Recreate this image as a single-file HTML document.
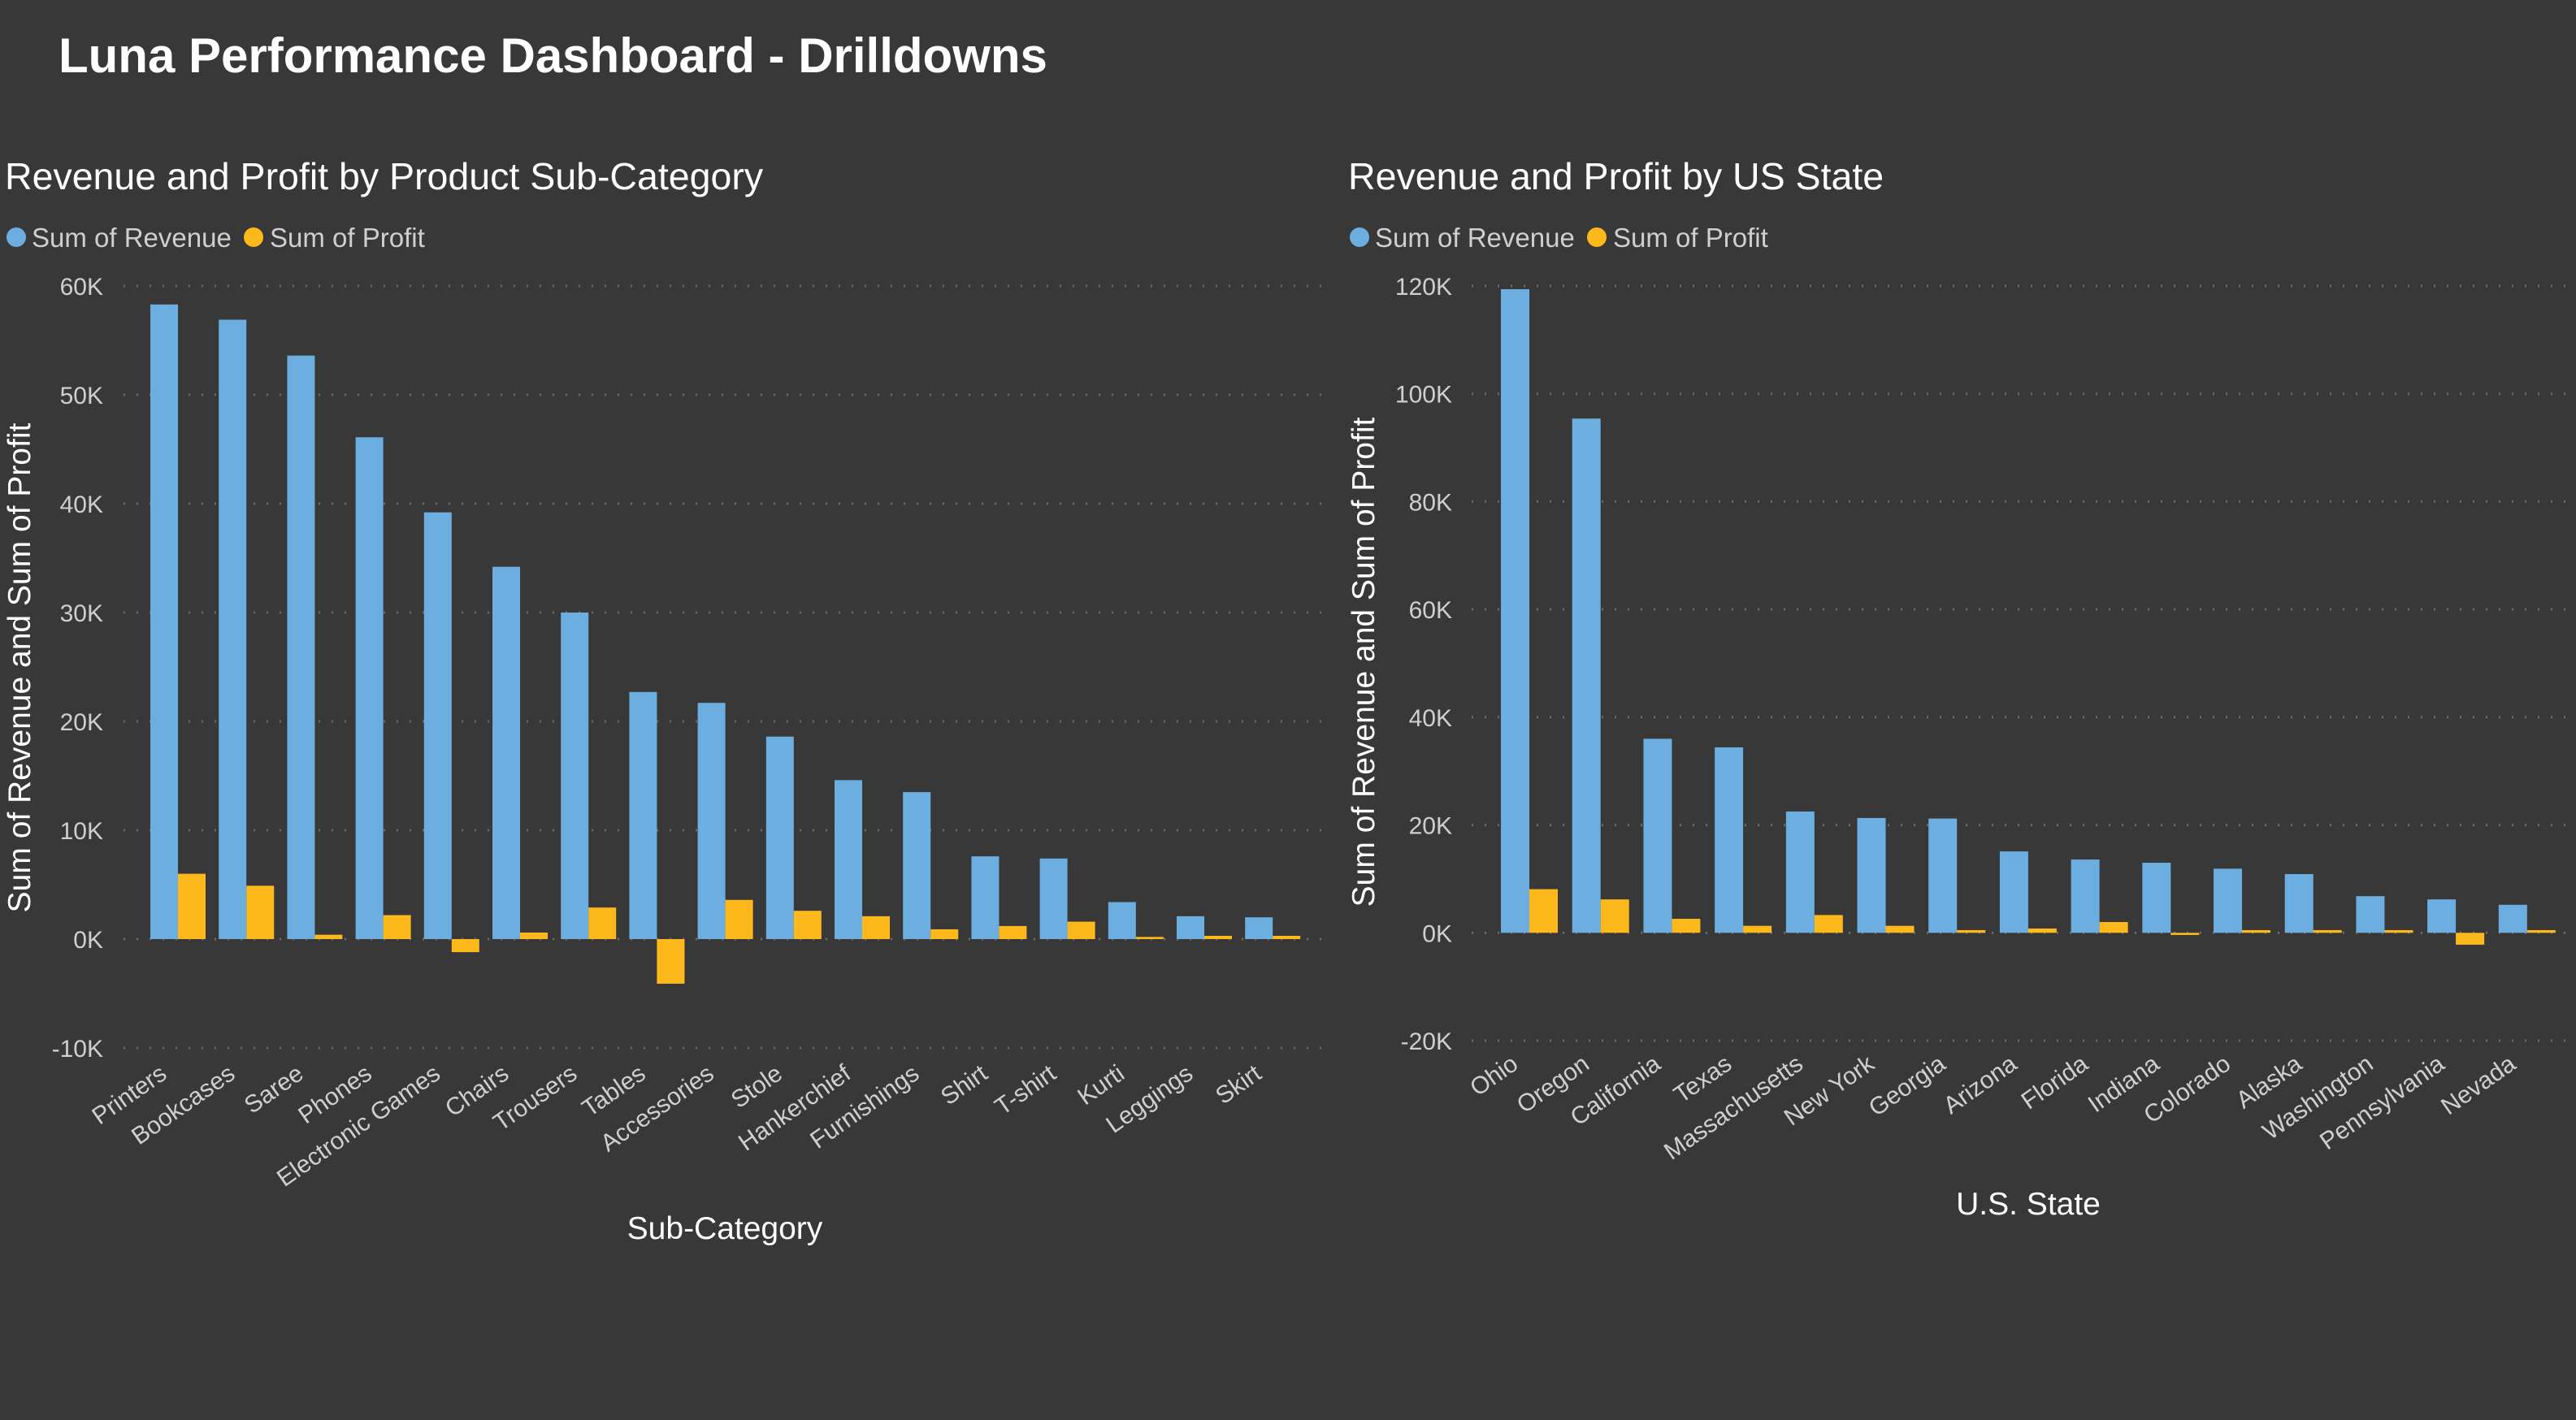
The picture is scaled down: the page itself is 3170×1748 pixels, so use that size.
<!DOCTYPE html>
<html><head><meta charset="utf-8">
<style>
html,body{margin:0;padding:0;background:#383838;}
svg{display:block;font-family:"Liberation Sans",Arial,sans-serif;}
</style></head>
<body>
<svg id="root" width="3170" height="1748" viewBox="0 0 3170 1748">
<rect x="0" y="0" width="3170" height="1748" fill="#383838"/>
<text x="72" y="89" font-size="60" font-weight="bold" fill="#ffffff">Luna Performance Dashboard - Drilldowns</text>
<g id="left"></g>
<g id="right"></g>
</svg>
<script>
const subCategories = ["Printers","Bookcases","Saree","Phones","Electronic Games","Chairs","Trousers","Tables","Accessories","Stole","Hankerchief","Furnishings","Shirt","T-shirt","Kurti","Leggings","Skirt"];
const subRevenue = [58300,56900,53600,46100,39200,34200,30000,22700,21700,18600,14600,13500,7600,7400,3400,2100,2000];
const subProfit = [6000,4900,400,2200,-1200,600,2900,-4100,3600,2600,2100,900,1200,1600,200,300,300];
const subTicks = [-10000,0,10000,20000,30000,40000,50000,60000];
const subTickLabels = ["-10K","0K","10K","20K","30K","40K","50K","60K"];

const states = ["Ohio","Oregon","California","Texas","Massachusetts","New York","Georgia","Arizona","Florida","Indiana","Colorado","Alaska","Washington","Pennsylvania","Nevada"];
const stateRevenue = [119400,95400,36000,34400,22500,21300,21200,15100,13600,13000,11900,10900,6800,6200,5200];
const stateProfit = [8100,6200,2600,1300,3300,1300,500,800,2000,-400,500,500,500,-2200,500];
const stateTicks = [-20000,0,20000,40000,60000,80000,100000,120000];
const stateTickLabels = ["-20K","0K","20K","40K","60K","80K","100K","120K"];

const NS = "http://www.w3.org/2000/svg";
function mk(parent, tag, attrs, text){
  const e = document.createElementNS(NS, tag);
  for (const k in attrs) e.setAttribute(k, attrs[k]);
  if (text !== undefined) e.textContent = text;
  parent.appendChild(e);
  return e;
}

function drawChart(g, cfg){
  const yScale = v => cfg.y0 + (v - cfg.tmin) / (cfg.tmax - cfg.tmin) * (cfg.y1 - cfg.y0);
  const xCenter = i => cfg.firstCenter + i * cfg.step;

  let t = mk(g, "text", {x: cfg.titleX, y: 233, "font-size": 46.5, fill: "#ffffff"}, cfg.title);
  
  

  let c = mk(g, "circle", {cx: cfg.legX + 12, cy: 292, r: 12, fill: "#6DAEE0"});
  
  
  t = mk(g, "text", {x: cfg.legX + 31, y: 304, "font-size": 33, fill: "#cfcfcf"}, "Sum of Revenue");
  
  
  c = mk(g, "circle", {cx: cfg.legX + 304, cy: 292, r: 12, fill: "#FDB81C"});
  
  
  t = mk(g, "text", {x: cfg.legX + 324, y: 304, "font-size": 33, fill: "#cfcfcf"}, "Sum of Profit");
  
  

  cfg.ticks.forEach((v, i) => {
    const y = yScale(v);
    const l = mk(g, "line", {x1: cfg.gx0, x2: cfg.gx1, y1: y, y2: y, stroke: "#6a6a6a", "stroke-width": 3, "stroke-dasharray": "2 14"});
    
    
    const tt = mk(g, "text", {x: cfg.tickX, y: y + 11, "font-size": 30, fill: "#cfcfcf", "text-anchor": "end"}, cfg.tickLabels[i]);
    
    
  });

  const zero = yScale(0);
  cfg.cats.forEach((name, i) => {
    const cx = xCenter(i);
    const rv = cfg.rev[i], pv = cfg.prof[i];
    let yr = yScale(rv);
    let b = mk(g, "rect", {x: cx - cfg.bw, y: Math.min(yr, zero), width: cfg.bw, height: Math.abs(zero - yr), fill: "#6DAEE0"});
    
    
    let yp = yScale(pv);
    b = mk(g, "rect", {x: cx, y: Math.min(yp, zero), width: cfg.bw, height: Math.max(Math.abs(zero - yp), 2), fill: "#FDB81C"});
    
    
    const lx = cx - 12, ly = cfg.labelY;
    const lab = mk(g, "text", {x: lx, y: ly, "font-size": 30, fill: "#cfcfcf", "text-anchor": "end", transform: "rotate(-35 " + lx + " " + ly + ")"}, name);
    
    
  });

  t = mk(g, "text", {x: cfg.ytX, y: cfg.ytY, "font-size": 39, fill: "#ffffff", "text-anchor": "middle", transform: "rotate(-90 " + cfg.ytX + " " + cfg.ytY + ")"}, "Sum of Revenue and Sum of Profit");
  
  
  t = mk(g, "text", {x: cfg.xtX, y: cfg.xtY, "font-size": 39, fill: "#ffffff", "text-anchor": "middle"}, cfg.xTitle);
  
  
}

drawChart(document.getElementById("left"), {
  title: "Revenue and Profit by Product Sub-Category", titleX: 6, legX: 8,
  cats: subCategories, rev: subRevenue, prof: subProfit,
  ticks: subTicks, tickLabels: subTickLabels, tmin: -10000, tmax: 60000,
  y0: 1290, y1: 352, gx0: 152, gx1: 1627, tickX: 127,
  firstCenter: 219, step: 84.2, bw: 34, labelY: 1326,
  ytX: 37, ytY: 822, xtX: 892, xtY: 1525, xTitle: "Sub-Category"
});
drawChart(document.getElementById("right"), {
  title: "Revenue and Profit by US State", titleX: 1659, legX: 1661,
  cats: states, rev: stateRevenue, prof: stateProfit,
  ticks: stateTicks, tickLabels: stateTickLabels, tmin: -20000, tmax: 120000,
  y0: 1281, y1: 352, gx0: 1811, gx1: 3162, tickX: 1787,
  firstCenter: 1882, step: 87.7, bw: 35, labelY: 1314,
  ytX: 1691, ytY: 815, xtX: 2496, xtY: 1495, xTitle: "U.S. State"
});
</script>
</body></html>
